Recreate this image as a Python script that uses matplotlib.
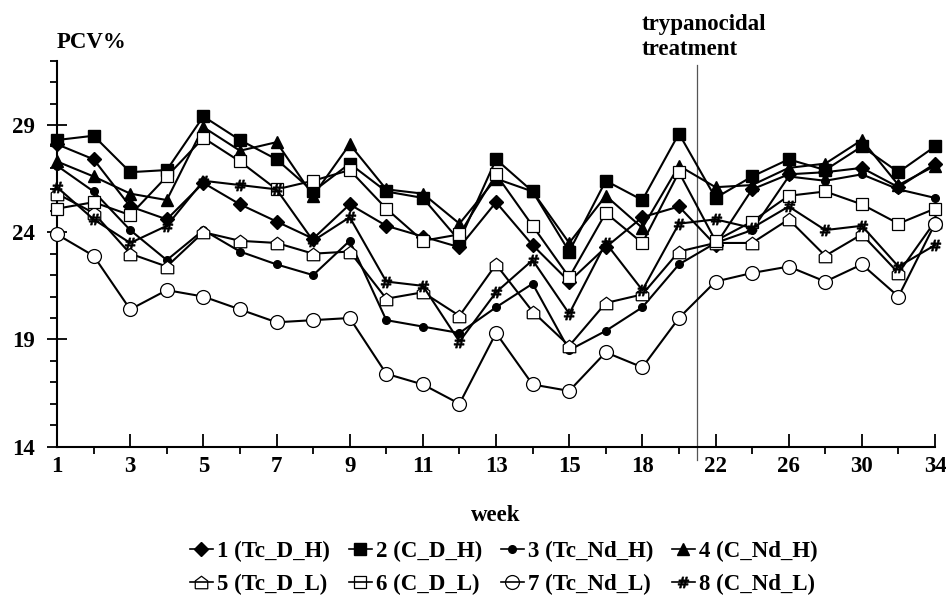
import matplotlib
matplotlib.use('Agg')
import matplotlib.pyplot as plt
from matplotlib.lines import Line2D

plt.rcParams['font.family'] = ['Liberation Serif', 'DejaVu Serif']
plt.rcParams['font.weight'] = 'bold'
plt.rcParams['mathtext.default'] = 'rm'

# week labels (one per sampling point)
weeks = ['1', '2', '3', '4', '5', '6', '7', '8', '9', '10', '11', '12', '13',
         '14', '15', '16', '18', '20', '22', '24', '26', '28', '30', '32', '34']

# PCV% per group
g1 = [28.1, 27.4, 25.2, 24.6, 26.3, 25.3, 24.5, 23.7, 25.3, 24.3, 23.8, 23.3, 25.4,
      23.4, 21.7, 23.3, 24.7, 25.2, 23.4, 26.0, 26.7, 26.8, 27.0, 26.1, 27.2]
g2 = [28.3, 28.5, 26.8, 26.9, 29.4, 28.3, 27.4, 25.9, 27.2, 25.9, 25.6, 23.6, 27.4,
      25.9, 23.1, 26.4, 25.5, 28.6, 25.6, 26.6, 27.4, 26.9, 28.0, 26.8, 28.0]
g3 = [27.1, 25.9, 24.1, 22.7, 24.1, 23.1, 22.5, 22.0, 23.6, 19.9, 19.6, 19.3, 20.5,
      21.6, 18.5, 19.4, 20.5, 22.5, 23.5, 24.1, 26.6, 26.4, 26.7, 26.0, 25.6]
g4 = [27.3, 26.6, 25.8, 25.5, 28.9, 27.8, 28.2, 25.7, 28.1, 26.0, 25.8, 24.4, 26.5,
      25.9, 23.5, 25.7, 24.2, 27.1, 26.1, 26.2, 27.0, 27.2, 28.3, 26.2, 27.1]
g5 = [25.8, 24.9, 23.0, 22.4, 24.0, 23.6, 23.5, 23.0, 23.1, 20.9, 21.2, 20.1, 22.5,
      20.3, 18.7, 20.7, 21.1, 23.1, 23.5, 23.5, 24.6, 22.9, 23.9, 22.1, 24.5]
g6 = [25.1, 25.4, 24.8, 26.6, 28.4, 27.3, 26.0, 26.4, 26.9, 25.1, 23.6, 23.9, 26.7,
      24.3, 21.9, 24.9, 23.5, 26.8, 23.6, 24.5, 25.7, 25.9, 25.3, 24.4, 25.1]
g7 = [23.9, 22.9, 20.4, 21.3, 21.0, 20.4, 19.8, 19.9, 20.0, 17.4, 16.9, 16.0, 19.3,
      16.9, 16.6, 18.4, 17.7, 20.0, 21.7, 22.1, 22.4, 21.7, 22.5, 21.0, 24.4]
g8 = [26.1, 24.6, 23.5, 24.3, 26.4, 26.2, 26.0, 23.6, 24.7, 21.7, 21.5, 18.9, 21.2,
      22.7, 20.2, 23.5, 21.3, 24.4, 24.6, 24.2, 25.2, 24.1, 24.3, 22.4, 23.4]

labels = ['1 (Tc_D_H)', '2 (C_D_H)', '3 (Tc_Nd_H)', '4 (C_Nd_H)',
          '5 (Tc_D_L)', '6 (C_D_L)', '7 (Tc_Nd_L)', '8 (C_Nd_L)']

house = [(-1, -1), (1, -1), (1, 0.25), (0, 1), (-1, 0.25), (-1, -1)]

# marker, size, filled
styles = [('D', 7.5, True), ('s', 8, True), ('o', 5.5, True), ('^', 8, True),
          (house, 9, False), ('s', 8, False), ('o', 10, False), (r'$\#$', 8, True)]

groups = [g1, g2, g3, g4, g5, g6, g7, g8]
x = list(range(len(weeks)))

fs = 16.5

fig = plt.figure(figsize=(9.46, 5.99), dpi=100)
ax = fig.add_axes([0.0603, 0.2543, 0.9281, 0.6444])

handles = []
for g, (m, ms, filled), lab in zip(groups, styles, labels):
    fc = 'black' if filled else 'white'
    mew = 1.0 if filled else 0.9
    if m == r'$\#$':
        mew = 0.4
    ax.plot(x, g, color='black', lw=1.5, marker=m, ms=ms, mfc=fc, mec='black',
            mew=mew, clip_on=False, zorder=3)
    handles.append(Line2D([0], [0], color='black', lw=1.2, marker=m, ms=ms,
                          mfc='black' if filled else 'none', mec='black', mew=mew))

# treatment marker
ax.axvline(17.5, ymin=-0.035, ymax=0.99, color='#555555', lw=0.9, clip_on=False)

ax.set_xlim(0, 24)
ax.set_ylim(14, 32)
ax.set_xticks(x[::2])
ax.set_xticklabels(weeks[::2])
ax.set_xticks(x[1::2], minor=True)
ax.set_yticks([14, 19, 24, 29])
ax.set_yticks(range(14, 33), minor=True)

for s in ['top', 'right']:
    ax.spines[s].set_visible(False)
for s in ['left', 'bottom']:
    ax.spines[s].set_linewidth(1.5)

ax.tick_params(axis='x', which='major', direction='in', length=9.5, width=1.3,
               labelsize=fs, pad=7)
ax.tick_params(axis='x', which='minor', direction='out', length=5, width=1.3)
ax.tick_params(axis='y', which='major', direction='inout', length=14, width=1.3,
               labelsize=fs, pad=9)
ax.tick_params(axis='y', which='minor', direction='out', length=5, width=1.3)

ax.set_xlabel('week', fontsize=fs, fontweight='bold', labelpad=20)

fig.text(57 / 946, 1 - 48 / 599, 'PCV%', fontsize=fs, fontweight='bold', va='baseline')
fig.text(642 / 946, 1 - 14 / 599, 'trypanocidal\ntreatment', fontsize=fs,
         fontweight='bold', va='top', linespacing=1.25)

# legend fills column by column, so interleave to get row order
order = [0, 4, 1, 5, 2, 6, 3, 7]
fig.legend([handles[i] for i in order], [labels[i] for i in order],
           loc='center', bbox_to_anchor=(504 / 946, 1 - 568 / 599),
           ncol=4, frameon=False, fontsize=fs, handlelength=1.0, handletextpad=0.2,
           columnspacing=0.8, labelspacing=0.5, borderpad=0)

fig.savefig('out.png', dpi=100)
